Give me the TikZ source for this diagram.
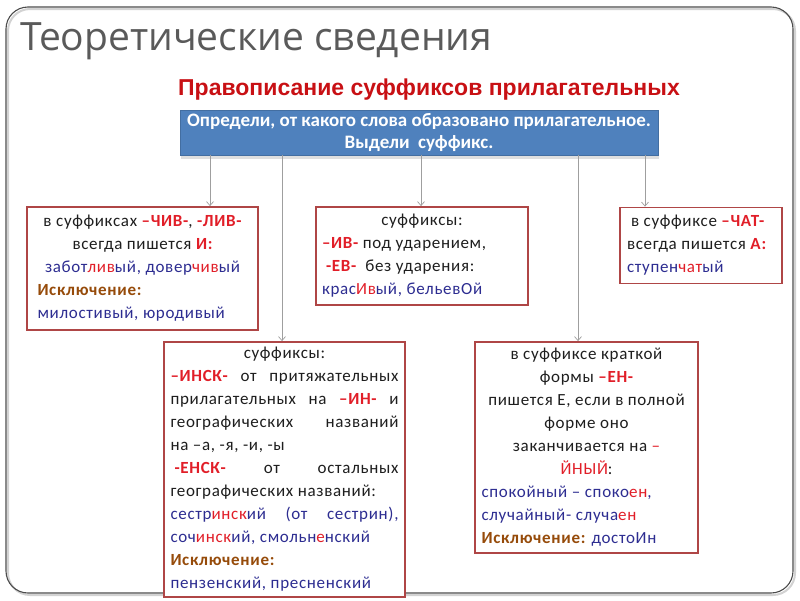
\documentclass[tikz,border=0pt]{standalone}
\usepackage{fontspec}
\setmainfont{Carlito}[LetterSpace=4]
\newfontfamily\bluefont{Carlito}
\newfontfamily\titlefont{Open Sans}
\newfontfamily\subfont{Liberation Sans}
\usetikzlibrary{arrows.meta,shadows}
\definecolor{rd}{RGB}{225,30,40}
\definecolor{nv}{RGB}{45,45,145}
\definecolor{brn}{RGB}{150,75,10}
\definecolor{bx}{RGB}{175,70,70}
\definecolor{bluefill}{RGB}{79,129,189}
\definecolor{titlegray}{RGB}{90,90,90}
\definecolor{subred}{RGB}{200,16,20}
\definecolor{txt}{RGB}{30,30,30}
\newcommand\R[1]{\textcolor{rd}{\bfseries #1}}
\newcommand\Rn[1]{\textcolor{rd}{#1}}
\newcommand\B[1]{\textcolor{nv}{#1}}
\newcommand\Br[1]{\textcolor{brn}{\bfseries #1}}
\newcommand\Lc[1]{\makebox[\W][c]{\spaceskip=0pt\xspaceskip=0pt #1}}
\newcommand\Ll[1]{\makebox[\W][l]{\spaceskip=0pt\xspaceskip=0pt #1}}
\newcommand\Ls[1]{\makebox[\W][s]{\spaceskip=0pt\xspaceskip=0pt #1}}
\tikzset{
  rulebox/.style={draw=bx, line width=1.8pt, fill=white, inner sep=0pt, align=left,
    text=txt, font=\fontsize{17}{23}\selectfont},
  tw/.style={text width=#1, execute at begin node={\gdef\W{#1}}},
  conn/.style={draw=gray!75, line width=0.7pt, -{Straight Barb[length=4pt,width=7pt]}},
}
\begin{document}
\begin{tikzpicture}[x=1pt,y=-1pt]
\useasboundingbox (0,0) rectangle (800,600);
% slide frame
\draw[gray!35, line width=2pt, rounded corners=22pt] (8,9) rectangle (795,595);
\draw[black!70, line width=1.1pt, rounded corners=22pt] (6,7) rectangle (793,593);

\node[anchor=base west, text=titlegray, font=\titlefont\fontsize{39}{42}\selectfont, inner sep=0pt] (title) at (20,50) {Теоретические сведения};
\node[anchor=base west, text=subred, font=\subfont\bfseries\fontsize{23}{26}\selectfont, inner sep=0pt] (sub) at (178,95) {Правописание суффиксов прилагательных};

\node[fill=bluefill, draw=bluefill!85!black, line width=0.6pt, minimum width=478pt, minimum height=45pt, inner sep=0pt,
  text width=470pt, execute at begin node={\gdef\W{470pt}},
  align=center, text=white, font=\bluefont\bfseries\fontsize{19}{22}\selectfont,
  drop shadow={shadow xshift=1pt, shadow yshift=-4pt, opacity=0.25}] (blue) at (419,132.5)
  {\Lc{Определи, от какого слова образовано прилагательное.}\\\Lc{Выдели \ суффикс.}};

% left box
\node[rulebox, minimum width=231pt, minimum height=123pt, tw=210pt] (lbox) at (142.5,268.5) {%
\Lc{в суффиксах \R{–ЧИВ-}, \R{-ЛИВ-}}\\
\Lc{всегда пишется \R{И:}}\\
\Lc{\B{забот}\Rn{лив}\B{ый, довер}\Rn{чив}\B{ый}}\\
\Ll{\Br{Исключение:}}\\
\Ll{\B{милостивый, юродивый}}};

% middle box
\node[rulebox, minimum width=212pt, minimum height=98pt, tw=200pt] (mbox) at (422,256) {%
\Lc{суффиксы:}\\
\Ll{\R{–ИВ-} под ударением,}\\
\Ll{\hspace*{4pt}\R{-ЕВ-} \ без ударения:}\\
\Ll{\B{крас}\Rn{Ив}\B{ый, бельевОй}}};

% right box
\node[rulebox, minimum width=162pt, minimum height=76pt, tw=148pt] (rbox) at (701,245.5) {%
\Ll{\hspace*{4pt}в суффиксе \R{–ЧАТ-}}\\
\Ll{всегда пишется \R{А:}}\\
\Ll{\B{ступен}\Rn{чат}\B{ый}}};

% bottom left box
\node[rulebox, minimum width=241pt, minimum height=255pt, tw=228pt] (blbox) at (284.5,469.5) {%
\Lc{суффиксы:}\\
\Ls{\R{–ИНСК-} от притяжательных}\\
\Ls{прилагательных на \R{–ИН-} и}\\
\Ls{географических названий}\\
\Ll{на –а, -я, -и, -ы}\\
\Ls{\hspace*{4pt}\R{-ЕНСК-} от остальных}\\
\Ll{географических названий:}\\
\Ls{\B{сестр}\Rn{инск}\B{ий} \B{(от} \B{сестрин),}}\\
\Ll{\B{соч}\Rn{инск}\B{ий, смольн}\Rn{е}\B{нский}}\\
\Ll{\Br{Исключение:}}\\
\Ll{\B{пензенский, пресненский}}};

% bottom right box
\node[rulebox, minimum width=223pt, minimum height=211pt, tw=210pt] (brbox) at (586.5,447.5) {%
\Lc{в суффиксе краткой}\\
\Lc{формы \R{–ЕН-}}\\
\Lc{пишется Е, если в полной}\\
\Lc{форме оно}\\
\Lc{заканчивается на \Rn{–}}\\
\Lc{\Rn{ЙНЫЙ}:}\\
\Ll{\B{спокойный – споко}\Rn{ен}\B{,}}\\
\Ll{\B{случайный- случа}\Rn{ен}}\\
\Ll{\Br{Исключение:} \B{достоИн}}};

% connectors
\coordinate (c1) at (210,0);
\coordinate (c2) at (282,0);
\coordinate (c3) at (421,0);
\coordinate (c4) at (578,0);
\coordinate (c5) at (645,0);
\draw[conn] (blue.south -| c1) -- (lbox.north -| c1);
\draw[conn] (blue.south -| c2) -- (blbox.north -| c2);
\draw[conn] (blue.south -| c3) -- (mbox.north -| c3);
\draw[conn] (blue.south -| c4) -- (brbox.north -| c4);
\draw[conn] (blue.south -| c5) -- (rbox.north -| c5);
\end{tikzpicture}
\end{document}
